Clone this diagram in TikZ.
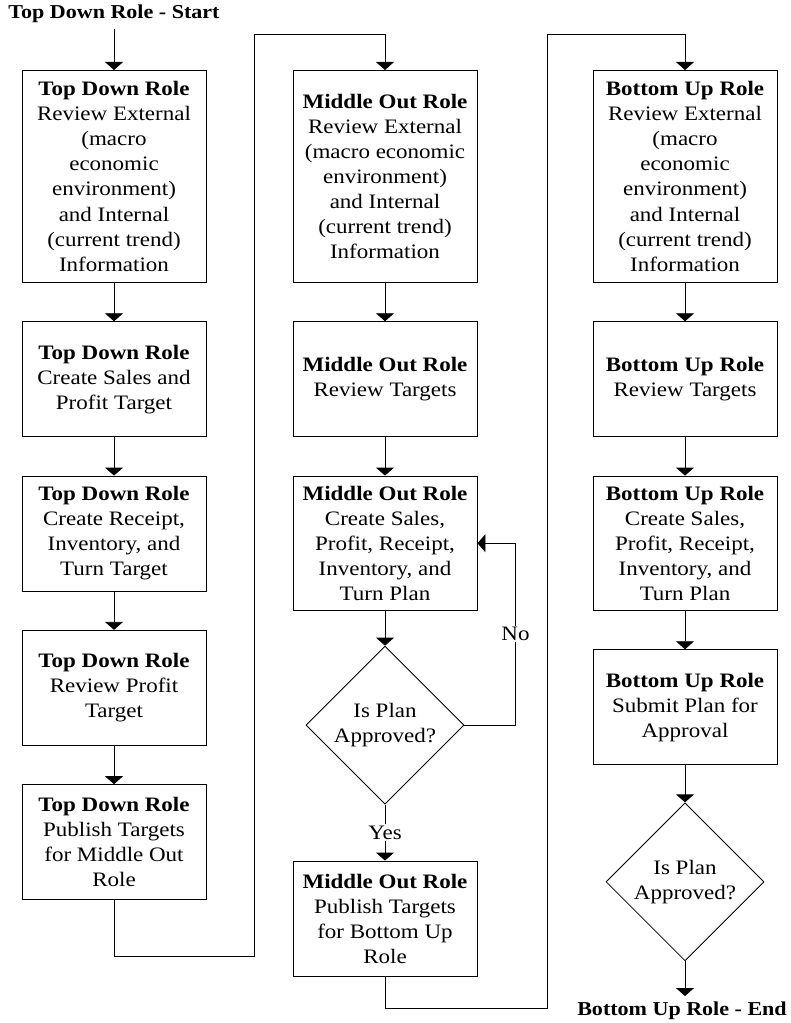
\documentclass[tikz,border=0pt]{standalone}
\usepackage{fontspec}
\setmainfont[FakeStretch=1.12]{Liberation Serif}
\usepackage{tikz}
\usetikzlibrary{shapes.geometric,arrows.meta,positioning}

\begin{document}
\begin{tikzpicture}[
    x=0.025cm, y=-0.025cm,
    node distance=0.96cm,
    line width=0.6pt,
    box/.style={rectangle, draw, minimum width=4.6cm, minimum height=2.875cm, align=center, inner sep=2pt, font=\fontsize{14.6}{17.8}\selectfont},
    tallbox/.style={box, minimum height=5.3cm},
    midbox/.style={box, minimum height=3.36cm},
    decision/.style={diamond, draw, aspect=1, minimum width=3.95cm, minimum height=3.95cm, inner sep=0pt, align=center, font=\fontsize{14.6}{17.8}\selectfont},
    termtext/.style={font=\fontsize{14}{17}\selectfont\bfseries, inner xsep=0pt, inner ysep=4pt},
    answer/.style={fill=white, inner sep=1pt, font=\fontsize{14.6}{17}\selectfont},
    arrow/.style={-{Triangle[width=0.45cm, length=0.2cm]}}
]
    \useasboundingbox (0,0) rectangle (790,1023);

    \node[termtext] (start) at (114,14) {Top Down Role - Start};
    \node[tallbox, anchor=north] (tdA) at (114,70) {\textbf{Top Down Role}\\Review External\\(macro\\economic\\environment)\\and Internal\\(current trend)\\Information};
    \node[box, below=of tdA] (tdB) {\textbf{Top Down Role}\\Create Sales and\\Profit Target};
    \node[box, below=of tdB] (tdC) {\textbf{Top Down Role}\\Create Receipt,\\Inventory, and\\Turn Target};
    \node[box, below=of tdC] (tdD) {\textbf{Top Down Role}\\Review Profit\\Target};
    \node[box, below=of tdD] (tdE) {\textbf{Top Down Role}\\Publish Targets\\for Middle Out\\Role};

    \node[tallbox, anchor=north] (moA) at (385,70) {\textbf{Middle Out Role}\\Review External\\(macro economic\\environment)\\and Internal\\(current trend)\\Information};
    \node[box, below=of moA] (moB) {\textbf{Middle Out Role}\\Review Targets};
    \node[midbox, below=of moB] (moC) {\textbf{Middle Out Role}\\Create Sales,\\Profit, Receipt,\\Inventory, and\\Turn Plan};
    \node[decision, below=0.87cm of moC] (moD) {Is Plan\\Approved?};
    \node[box, below=1.4cm of moD] (moE) {\textbf{Middle Out Role}\\Publish Targets\\for Bottom Up\\Role};

    \node[tallbox, anchor=north] (buA) at (685,70) {\textbf{Bottom Up Role}\\Review External\\(macro\\economic\\environment)\\and Internal\\(current trend)\\Information};
    \node[box, below=of buA] (buB) {\textbf{Bottom Up Role}\\Review Targets};
    \node[midbox, below=of buB] (buC) {\textbf{Bottom Up Role}\\Create Sales,\\Profit, Receipt,\\Inventory, and\\Turn Plan};
    \node[box, below=of buC] (buD) {\textbf{Bottom Up Role}\\Submit Plan for\\Approval};
    \node[decision, below=0.93cm of buD] (buE) {Is Plan\\Approved?};
    \node[termtext] (finish) at (682,1011) {Bottom Up Role - End};

    \coordinate (j1) at (254,956);
    \coordinate (j2) at (254,34);
    \coordinate (k1) at (547,1008);
    \coordinate (k2) at (547,34);

    \draw[arrow] (start) -- (tdA);
    \draw[arrow] (tdA) -- (tdB);
    \draw[arrow] (tdB) -- (tdC);
    \draw[arrow] (tdC) -- (tdD);
    \draw[arrow] (tdD) -- (tdE);
    \draw[arrow] (tdE.south) |- (j1) -- (j2) -| (moA.north);

    \draw[arrow] (moA) -- (moB);
    \draw[arrow] (moB) -- (moC);
    \draw[arrow] (moC) -- (moD);
    \draw[arrow] (moD) -- node[answer] {Yes} (moE);
    \draw[arrow] (moD.east) -- ++(51,0) |- (moC.east) node[answer, pos=0.25] {No};
    \draw[arrow] (moE.south) |- (k1) -- (k2) -| (buA.north);

    \draw[arrow] (buA) -- (buB);
    \draw[arrow] (buB) -- (buC);
    \draw[arrow] (buC) -- (buD);
    \draw[arrow] (buD) -- (buE);
    \draw[arrow] (buE) -- (buE |- finish.north);
\end{tikzpicture}
\end{document}
